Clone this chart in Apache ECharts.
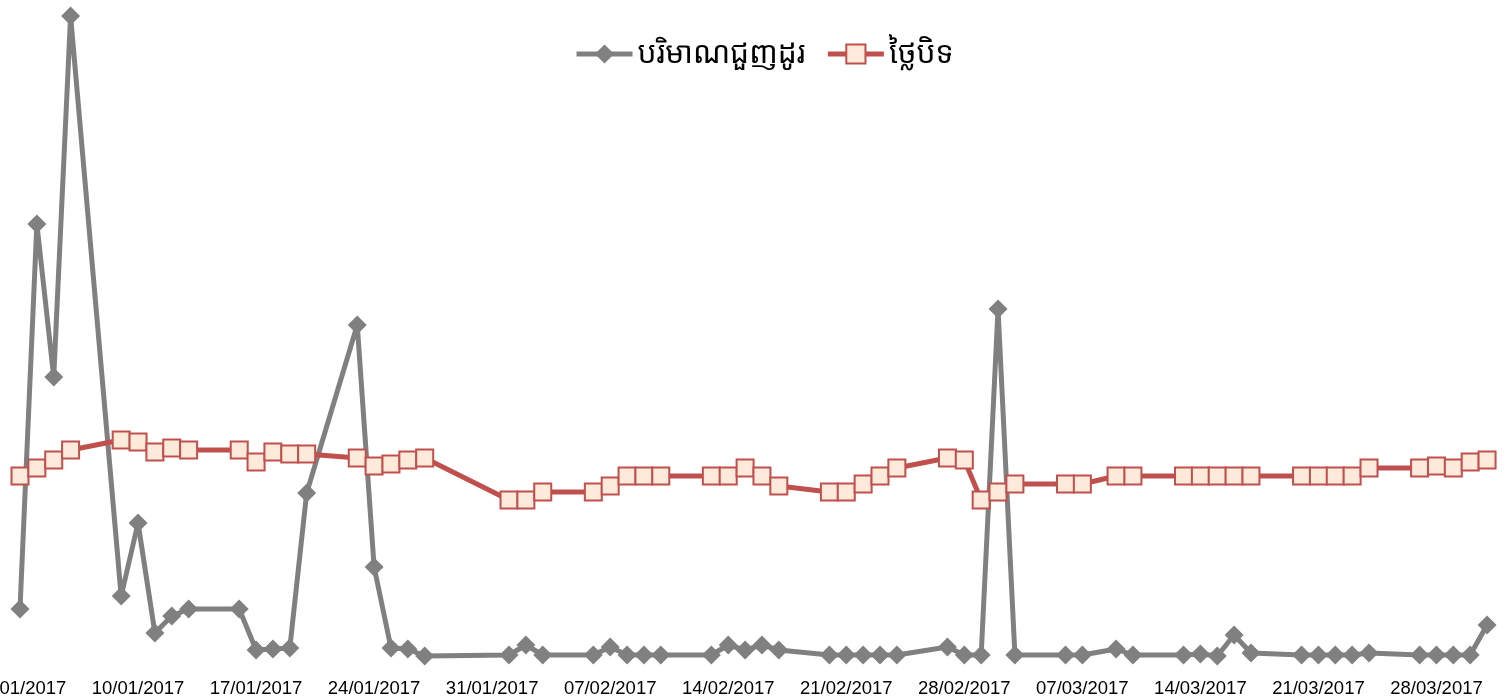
<!DOCTYPE html>
<html>
<head>
<meta charset="utf-8">
<script src="https://cdn.jsdelivr.net/npm/echarts@6/dist/echarts.min.js"></script>
<style>
html,body{margin:0;padding:0;background:#fff;}
#chart{width:1511px;height:699px;}
</style>
</head>
<body>
<div id="chart"></div>
<script>
const dates = ['03/01/2017','04/01/2017','05/01/2017','06/01/2017','09/01/2017','10/01/2017','11/01/2017','12/01/2017','13/01/2017',
'16/01/2017','17/01/2017','18/01/2017','19/01/2017','20/01/2017','23/01/2017','24/01/2017','25/01/2017','26/01/2017','27/01/2017',
'01/02/2017','02/02/2017','03/02/2017','06/02/2017','07/02/2017','08/02/2017','09/02/2017','10/02/2017','13/02/2017','14/02/2017',
'15/02/2017','16/02/2017','17/02/2017','20/02/2017','21/02/2017','22/02/2017','23/02/2017','24/02/2017','27/02/2017','28/02/2017',
'01/03/2017','02/03/2017','03/03/2017','06/03/2017','07/03/2017','09/03/2017','10/03/2017','13/03/2017','14/03/2017','15/03/2017',
'16/03/2017','17/03/2017','20/03/2017','21/03/2017','22/03/2017','23/03/2017','24/03/2017','27/03/2017','28/03/2017','29/03/2017',
'30/03/2017','31/03/2017'];

const volume = [5100,43600,28300,64400,6400,13700,2700,4400,5100,
5100,1000,1100,1200,16700,33500,9300,1200,1100,400,
500,1500,500,500,1300,500,500,500,500,1500,
1000,1500,1000,500,500,500,500,500,1300,500,
500,35100,500,500,500,1100,500,500,600,400,
2500,700,500,500,500,500,700,500,500,500,
500,3500];

const closePrice = [5960,5980,6000,6025,6050,6045,6020,6030,6025,
6025,5995,6020,6015,6015,6005,5985,5990,6000,6005,
5900,5900,5920,5920,5935,5960,5960,5960,5960,5960,
5980,5960,5935,5920,5920,5940,5960,5980,6005,6000,
5900,5920,5940,5940,5940,5960,5960,5960,5960,5960,
5960,5960,5960,5960,5960,5960,5980,5980,5985,5980,
5995,6000];

const tickLabels = ['03/01/2017','10/01/2017','17/01/2017','24/01/2017','31/01/2017','07/02/2017','14/02/2017',
'21/02/2017','28/02/2017','07/03/2017','14/03/2017','21/03/2017','28/03/2017'];

const seriesNames = ['បរិមាណជួញដូរ','ថ្លៃបិទ'];

// day number counted from 27/12/2016 (so that weekly ticks fall on multiples of 7)
function dayNum(s){
  const p = s.split('/');
  return (Date.UTC(+p[2], +p[1]-1, +p[0]) - Date.UTC(2016,11,27)) / 86400000;
}

const volData = dates.map((d,i)=>[dayNum(d), volume[i]]);
const priceData = dates.map((d,i)=>[dayNum(d), closePrice[i]]);

const chart = echarts.init(document.getElementById('chart'));
chart.setOption({
  animation:false,
  backgroundColor:'#fff',
  legend:{
    top:34,
    left:569,
    itemWidth:56,
    itemHeight:24,
    itemGap:20,
    lineStyle:{width:5},
    textStyle:{fontFamily:"'Noto Sans Khmer','Khmer OS','Khmer OS System',sans-serif",fontSize:30,color:'#000'},
    data:seriesNames
  },
  grid:{left:20,right:0,top:10,bottom:39,containLabel:false,outerBoundsMode:'none'},
  xAxis:{
    type:'value',
    min:7,max:95.42,interval:7,
    axisLine:{show:false},axisTick:{show:false},splitLine:{show:false},
    axisLabel:{
      showMaxLabel:false,
      margin:19,
      fontSize:18.5,
      fontFamily:"'Liberation Sans',Arial,sans-serif",
      color:'#000',
      formatter:function(v){const i=Math.round((v-7)/7);return (Math.abs(v-7-7*i)<0.01&&i>=0&&i<tickLabels.length)?tickLabels[i]:'';}
    }
  },
  yAxis:[
    {type:'value',min:0,max:65000,show:false,splitLine:{show:false}},
    {type:'value',min:5500,max:7125,show:false,splitLine:{show:false}}
  ],
  series:[
    {
      name:seriesNames[0],type:'line',yAxisIndex:0,data:volData,clip:false,
      symbol:'diamond',symbolSize:19,
      lineStyle:{color:'#808080',width:5},
      itemStyle:{color:'#808080'},
      z:2
    },
    {
      name:seriesNames[1],type:'line',yAxisIndex:1,data:priceData,clip:false,
      symbol:'rect',symbolSize:17,
      lineStyle:{color:'#C0504D',width:5},
      itemStyle:{color:'#FDEADA',borderColor:'#C0504D',borderWidth:2},
      z:3
    }
  ]
});
</script>
</body>
</html>
